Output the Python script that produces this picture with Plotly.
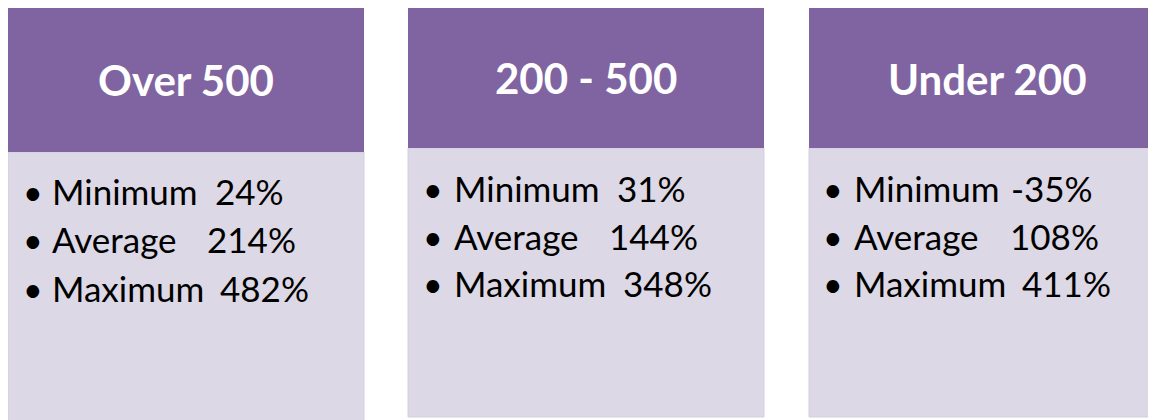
import plotly.graph_objects as go

# ---- data ----
groups = ["Over 500", "200 - 500", "Under 200"]
stat_labels = ["Minimum", "Average", "Maximum"]
minimum = ["24%", "31%", "-35%"]
average = ["214%", "144%", "108%"]
maximum = ["482%", "348%", "411%"]

# ---- layout constants ----
W, H = 1156, 420
PAGE_MARGIN = 8  # default body margin of the html page
HEADER = "#8064A2"
BODY = "#DCD8E5"
BODY_LINE = "#D3CEDF"

panel_x0 = [8, 408, 809]
panel_x1 = [364, 764, 1166]
header_y0 = [7, 6, 7]
header_y1 = [152, 148, 148]
body_y1 = [424, 417, 417]
title_y = [80, 78, 79]
bullet_x = [33, 433, 833]
label_x = [50, 452, 852]
value_x = [[213, 205, 218], [615, 607, 621], [1009, 1008, 1020]]
line_y = [[191, 239, 288], [188, 236, 283], [188, 236, 283]]

fig = go.Figure()
fig.add_trace(go.Scatter(x=[PAGE_MARGIN, W], y=[PAGE_MARGIN, H], mode="markers",
                         marker=dict(opacity=0), hoverinfo="skip", showlegend=False))

shapes = []
annotations = []
values = [minimum, average, maximum]
for i, g in enumerate(groups):
    x0, x1 = panel_x0[i], panel_x1[i]
    shapes.append(dict(type="rect", xref="x", yref="y", x0=x0, x1=x1,
                       y0=header_y1[i], y1=body_y1[i], fillcolor=BODY,
                       line=dict(color=BODY_LINE, width=1), layer="below"))
    shapes.append(dict(type="rect", xref="x", yref="y", x0=x0, x1=x1,
                       y0=header_y0[i], y1=header_y1[i], fillcolor=HEADER,
                       line=dict(width=0), layer="below"))
    annotations.append(dict(x=(x0 + x1) / 2, y=title_y[i], xref="x", yref="y",
                            text="<b>%s</b>" % g, showarrow=False,
                            xanchor="center", yanchor="middle",
                            font=dict(family="Lato", size=42, color="white")))
    for j, lab in enumerate(stat_labels):
        y = line_y[i][j]
        annotations.append(dict(x=bullet_x[i], y=y, xref="x", yref="y", text="•",
                                showarrow=False, xanchor="center", yanchor="middle",
                                font=dict(family="Lato", size=34, color="black")))
        annotations.append(dict(x=label_x[i], y=y, xref="x", yref="y", text=lab,
                                showarrow=False, xanchor="left", yanchor="middle",
                                font=dict(family="Lato", size=35, color="black")))
        annotations.append(dict(x=value_x[i][j], y=y, xref="x", yref="y",
                                text=values[j][i], showarrow=False,
                                xanchor="left", yanchor="middle",
                                font=dict(family="Lato", size=35, color="black")))

fig.update_layout(
    width=W - PAGE_MARGIN, height=H - PAGE_MARGIN,
    margin=dict(l=0, r=0, t=0, b=0),
    paper_bgcolor="white", plot_bgcolor="white",
    xaxis=dict(range=[PAGE_MARGIN, W], visible=False, fixedrange=True),
    yaxis=dict(range=[H, PAGE_MARGIN], visible=False, fixedrange=True),
    shapes=shapes, annotations=annotations, showlegend=False,
)
fig.write_html("out.html", config=dict(displayModeBar=False))
